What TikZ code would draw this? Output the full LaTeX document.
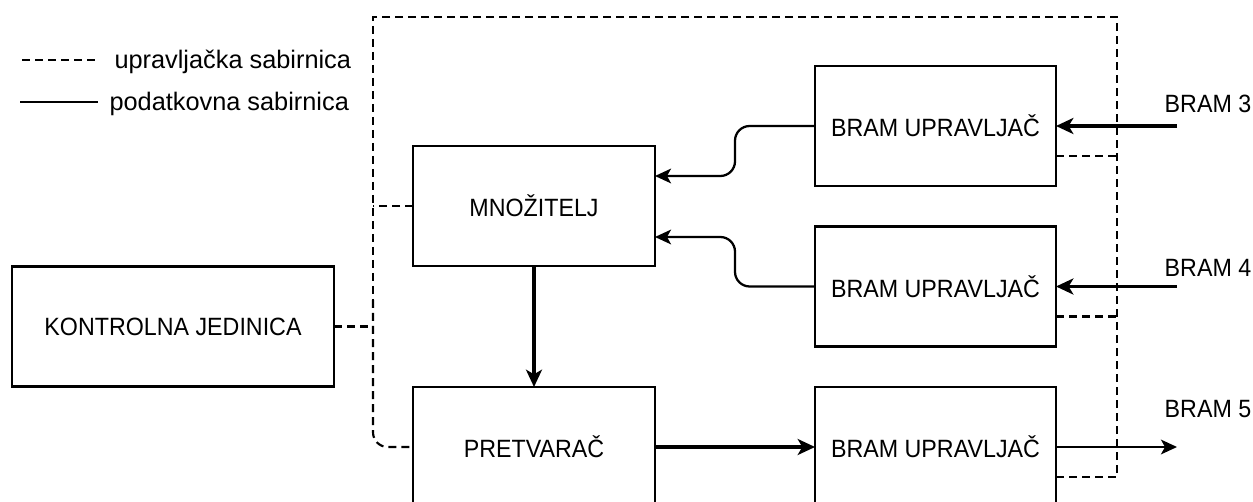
\documentclass[tikz,border=0pt]{standalone}
\usepackage{fontspec}
\setmainfont{Liberation Sans}
\newfontfamily\blokfont{Liberation Sans}[FakeStretch=0.93]
\usetikzlibrary{arrows.meta,calc}
\tikzset{every picture/.style={line width=0.75pt}}
\tikzset{
  blok/.style={draw,line width=1.7pt,minimum width=181.5pt,minimum height=90pt,inner sep=0pt,outer sep=0pt,font=\blokfont\fontsize{18.75}{22}\selectfont},
  upr/.style={line width=1.6pt,dash pattern=on 6pt off 3.75pt},
  pod/.style={line width=1.7pt,-{Stealth[length=12pt,width=11pt,inset=3pt]}},
  debela/.style={line width=2.7pt,-{Stealth[length=13pt,width=12pt,inset=3.5pt]}},
  oznaka/.style={inner sep=0pt,font=\blokfont\fontsize{18.75}{22}\selectfont},
  legenda/.style={anchor=west,inner sep=0pt,font=\fontsize{19}{22}\selectfont}
}
\begin{document}
\begin{tikzpicture}[x=0.75pt,y=0.75pt,yscale=-1,xscale=1]
\clip (0,0) rectangle (1253,502);
\draw[upr] (22,60) -- (98,60) ;
\draw[line width=1.7pt] (20,102) -- (98,102) ;
\node[legenda] (leg1) at (114,62) {upravljačka sabirnica};
\node[legenda] (leg2) at (109,104) {podatkovna sabirnica};
\node[blok,minimum width=241.5pt] (kj) at (173,326.5) {KONTROLNA JEDINICA};
\node[blok] (mnoz) at (534,206) {MNOŽITELJ};
\node[blok] (pret) at (534,447) {PRETVARAČ};
\node[blok,minimum width=180.75pt] (b1) at (935.5,126) {BRAM UPRAVLJAČ};
\node[blok,minimum width=180.75pt] (b2) at (935.5,286.5) {BRAM UPRAVLJAČ};
\node[blok,minimum width=180.75pt] (b3) at (935.5,447) {BRAM UPRAVLJAČ};
\coordinate (busTL) at (373,17);
\coordinate (busTR) at (1117,17);
\coordinate (s1) at ($(b1.east)+(0,30)$);
\coordinate (s2) at ($(b2.east)+(0,30)$);
\coordinate (s3) at ($(b3.east)+(0,30)$);
\coordinate (in3) at (1177,126);
\coordinate (in4) at (1177,286.5);
\coordinate (out5) at (1177,447);
\node[oznaka] (l3) at (1208,104) {BRAM 3};
\node[oznaka] (l4) at (1208,268) {BRAM 4};
\node[oznaka] (l5) at (1208,409) {BRAM 5};
\draw[upr] (s3) -| (busTR) -- (busTL) -- (373,300) ;
\draw[upr,rounded corners=11pt] (373,300) |- (pret.west) ;
\draw[upr] (s1) -- (s1 -| busTR) ;
\draw[upr] (s2) -- (s2 -| busTR) ;
\draw[upr] (kj.east) -- (kj.east -| busTL) ;
\draw[upr] (mnoz.west) -- (mnoz.west -| busTL) ;
\draw[pod,rounded corners=11pt] (b1.west) -- ++(-80,0) |- ($(mnoz.east)+(0,-30)$) ;
\draw[pod,rounded corners=11pt] (b2.west) -- ++(-80,0) |- ($(mnoz.east)+(0,31)$) ;
\draw[debela] (mnoz.south) -- (pret.north) ;
\draw[debela] (pret.east) -- (b3.west) ;
\draw[debela] (in3) -- (b1.east) ;
\draw[debela] (in4) -- (b2.east) ;
\draw[pod] (b3.east) -- (out5) ;
\end{tikzpicture}
\end{document}
